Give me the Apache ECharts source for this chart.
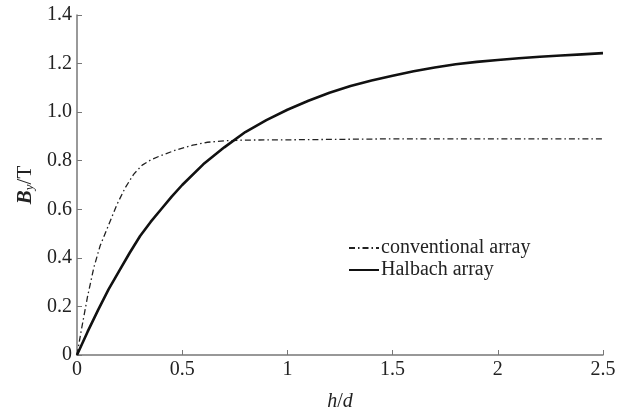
<!DOCTYPE html>
<html>
<head>
<meta charset="utf-8">
<script src="https://cdn.jsdelivr.net/npm/echarts@6/dist/echarts.min.js"></script>
<style>
  html, body { margin: 0; padding: 0; background: #fff; }
  #chart { width: 634px; height: 417px; }
</style>
</head>
<body>
<div id="chart"></div>
<script>
// h/d values and By (T)
const halbachX = [0, 0.05, 0.1, 0.15, 0.2, 0.25, 0.3, 0.35, 0.4, 0.45, 0.5, 0.6, 0.7, 0.8, 0.9, 1.0, 1.1, 1.2, 1.3, 1.4, 1.5, 1.6, 1.7, 1.8, 1.9, 2.0, 2.1, 2.2, 2.3, 2.4, 2.5];
const halbachY = [0, 0.095, 0.185, 0.27, 0.345, 0.42, 0.49, 0.548, 0.6, 0.652, 0.7, 0.785, 0.855, 0.918, 0.967, 1.01, 1.047, 1.08, 1.108, 1.13, 1.15, 1.168, 1.184, 1.197, 1.207, 1.215, 1.222, 1.228, 1.233, 1.238, 1.243];

const convX = [0, 0.02, 0.05, 0.08, 0.11, 0.15, 0.19, 0.23, 0.27, 0.31, 0.35, 0.39, 0.47, 0.55, 0.62, 0.7, 0.8, 1.0, 1.5, 2.0, 2.5];
const convY = [0, 0.1, 0.24, 0.36, 0.45, 0.535, 0.62, 0.69, 0.745, 0.782, 0.803, 0.818, 0.844, 0.864, 0.876, 0.882, 0.885, 0.886, 0.89, 0.89, 0.89];

const seriesNames = ['conventional array', 'Halbach array'];

const pairs = (xs, ys) => xs.map((x, i) => [x, ys[i]]);

const font = '"Liberation Serif", "DejaVu Serif", serif';
const axisColor = '#777';

const option = {
  animation: false,
  textStyle: { fontFamily: font },
  grid: { left: 77, right: 31, top: 15, bottom: 45 },
  legend: {
    orient: 'vertical',
    left: 343,
    top: 233,
    itemWidth: 30,
    itemHeight: 12,
    itemGap: 2,
    itemStyle: { opacity: 0 },
    textStyle: { fontFamily: font, fontSize: 20, color: '#222', padding: [0, 0, 0, -3] },
    data: seriesNames
  },
  xAxis: {
    type: 'value',
    min: 0,
    max: 2.5,
    interval: 0.5,
    name: '{i|h}/{i|d}',
    nameLocation: 'middle',
    nameGap: 37,
    nameTextStyle: {
      fontFamily: font, fontSize: 20, color: '#222',
      rich: { i: { fontFamily: font, fontSize: 20, fontStyle: 'italic', color: '#222' } }
    },
    axisLine: { lineStyle: { color: axisColor, width: 1.5 } },
    axisTick: { inside: true, length: 5, lineStyle: { color: axisColor } },
    axisLabel: { fontFamily: font, fontSize: 20, color: '#222', margin: 5 },
    splitLine: { show: false }
  },
  yAxis: {
    type: 'value',
    min: 0,
    max: 1.4,
    interval: 0.2,
    name: '{b|B}{s|y}{n|/T}',
    nameLocation: 'middle',
    nameRotate: 90,
    nameGap: 31,
    nameTextStyle: {
      rich: {
        b: { fontFamily: font, fontSize: 21, fontStyle: 'italic', fontWeight: 'bold', color: '#222' },
        s: { fontFamily: font, fontSize: 13, fontStyle: 'italic', color: '#222', verticalAlign: 'bottom', padding: [8, 0, 0, 0] },
        n: { fontFamily: font, fontSize: 21, color: '#222' }
      }
    },
    axisLine: { show: true, lineStyle: { color: axisColor, width: 1.5 } },
    axisTick: { show: true, inside: true, length: 5, lineStyle: { color: axisColor } },
    axisLabel: {
      fontFamily: font, fontSize: 20, color: '#222', margin: 5,
      formatter: v => (v === 0 ? '0' : v.toFixed(1))
    },
    splitLine: { show: false }
  },
  series: [
    {
      name: seriesNames[0],
      type: 'line',
      data: pairs(convX, convY),
      symbol: 'none',
      smooth: false,
      color: '#222',
      lineStyle: { color: '#222', width: 1.3, type: [6, 3, 1.5, 3] }
    },
    {
      name: seriesNames[1],
      type: 'line',
      data: pairs(halbachX, halbachY),
      symbol: 'none',
      smooth: false,
      color: '#111',
      lineStyle: { color: '#111', width: 2.6 }
    }
  ]
};

const chart = echarts.init(document.getElementById('chart'));
chart.setOption(option);
</script>
</body>
</html>
